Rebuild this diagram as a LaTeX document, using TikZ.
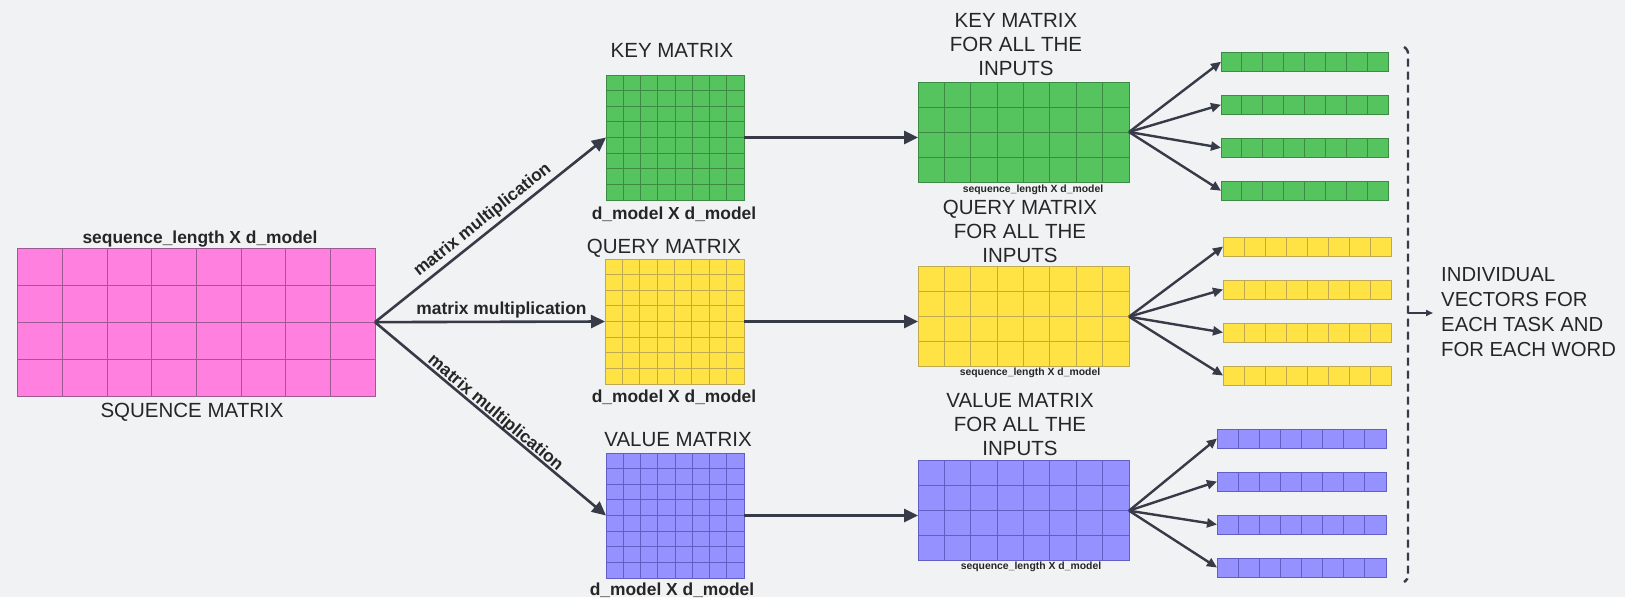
\documentclass[tikz,border=0pt]{standalone}
\usepackage{fontspec}
\setmainfont{Liberation Sans}
\usetikzlibrary{calc,arrows.meta}
\definecolor{bgc}{HTML}{F1F2F4}
\definecolor{pinkf}{HTML}{FF80DF}
\definecolor{pinkl}{HTML}{9E5A92}
\definecolor{greenf}{HTML}{55C35E}
\definecolor{greenl}{HTML}{3D8A45}
\definecolor{yellowf}{HTML}{FFE244}
\definecolor{yellowl}{HTML}{BFAA52}
\definecolor{bluef}{HTML}{9591FF}
\definecolor{bluel}{HTML}{625FC4}
\definecolor{arrowc}{HTML}{363B47}
\definecolor{txtc}{HTML}{262626}
\tikzset{
  matbox/.style={inner sep=0pt,outer sep=0pt,line width=1pt},
  pinkm/.style={fill=pinkf,draw=pinkl,line width=0.9pt},
  greenm/.style={fill=greenf,draw=greenl,line width=0.9pt},
  yellowm/.style={fill=yellowf,draw=yellowl,line width=0.9pt},
  bluem/.style={fill=bluef,draw=bluel,line width=0.9pt},
  arr/.style={draw=arrowc,line width=2.6pt,-{Triangle[length=14pt,width=13pt]}},
  farr/.style={draw=arrowc,line width=2.4pt,-{Triangle[length=10pt,width=9pt]}},
  title/.style={text=txtc,font=\fontsize{20.5}{24}\selectfont,align=center,inner sep=0pt},
  blabel/.style={text=txtc,font=\bfseries\fontsize{17.4}{20}\selectfont,inner sep=0pt},
  slabel/.style={text=txtc,font=\bfseries\fontsize{10.4}{12}\selectfont,inner sep=0pt},
  mlabel/.style={text=txtc,font=\bfseries\fontsize{17.4}{20}\selectfont,inner sep=2pt},
}
\newcommand\mymat[8]{%
  \node[matbox,#8,minimum width=#4pt,minimum height=#5pt,anchor=north west] (#1) at (#2,#3) {};
  \pgfmathtruncatemacro\mcols{#6-1}%
  \pgfmathtruncatemacro\mrows{#7-1}%
  \foreach \i in {1,...,\mcols}{\draw[#8] ($(#1.north west)!\i/#6!(#1.north east)$) -- ($(#1.south west)!\i/#6!(#1.south east)$);}%
  \ifnum#7>1
  \foreach \j in {1,...,\mrows}{\draw[#8] ($(#1.north west)!\j/#7!(#1.south west)$) -- ($(#1.north east)!\j/#7!(#1.south east)$);}%
  \fi
}
\begin{document}
\begin{tikzpicture}[x=1pt,y=-1pt]
\useasboundingbox (0,0) rectangle (1625,597);
\fill[bgc] (0,0) rectangle (1625,597);

% sequence matrix
\mymat{seq}{17.7}{248.3}{357.3}{147.7}{8}{4}{pinkm}
\node[blabel,anchor=base] (seqdim) at (200,243) {sequence\_length X d\_model};
\node[title,anchor=base] (seqname) at (192,417) {SQUENCE MATRIX};

% weight matrices
\mymat{km}{606}{75}{138}{125}{8}{8}{greenm}
\mymat{qm}{605}{259}{139}{125}{8}{8}{yellowm}
\mymat{vm}{606}{453}{138}{125}{8}{8}{bluem}
\node[title,anchor=base] (kmname) at (672,57.5) {KEY MATRIX};
\node[title,anchor=base] (qmname) at (664,253) {QUERY MATRIX};
\node[title,anchor=base] (vmname) at (678,446.7) {VALUE MATRIX};
\node[blabel,anchor=base] (kmdim) at (674,219.5) {d\_model X d\_model};
\node[blabel,anchor=base] (qmdim) at (674,402) {d\_model X d\_model};
\node[blabel,anchor=base] (vmdim) at (672,595.5) {d\_model X d\_model};

% full matrices
\mymat{kall}{918}{82}{211}{100}{8}{4}{greenm}
\mymat{qall}{918}{266.7}{211}{100}{8}{4}{yellowm}
\mymat{vall}{918}{460.7}{211}{100}{8}{4}{bluem}
\node[title] (kallname) at (1016,44.5) {KEY MATRIX\\FOR ALL THE\\INPUTS};
\node[title] (qallname) at (1020,231) {QUERY MATRIX\\FOR ALL THE\\INPUTS};
\node[title] (vallname) at (1020,424.5) {VALUE MATRIX\\FOR ALL THE\\INPUTS};
\node[slabel,anchor=base] (kalldim) at (1033,192.7) {sequence\_length X d\_model};
\node[slabel,anchor=base] (qalldim) at (1030,375) {sequence\_length X d\_model};
\node[slabel,anchor=base] (valldim) at (1031,569) {sequence\_length X d\_model};

% vectors
\mymat{kv1}{1221}{52}{167}{19.5}{8}{1}{greenm}
\mymat{kv2}{1221}{95}{167}{19.5}{8}{1}{greenm}
\mymat{kv3}{1221}{138}{167}{19.5}{8}{1}{greenm}
\mymat{kv4}{1221}{181}{167}{19.5}{8}{1}{greenm}
\mymat{qv1}{1223}{237}{168}{19}{8}{1}{yellowm}
\mymat{qv2}{1223}{280}{168}{19}{8}{1}{yellowm}
\mymat{qv3}{1223}{323}{168}{19}{8}{1}{yellowm}
\mymat{qv4}{1223}{366}{168}{19}{8}{1}{yellowm}
\mymat{vv1}{1217}{429}{169}{19}{8}{1}{bluem}
\mymat{vv2}{1217}{472}{169}{19}{8}{1}{bluem}
\mymat{vv3}{1217}{515}{169}{19}{8}{1}{bluem}
\mymat{vv4}{1217}{558}{169}{19}{8}{1}{bluem}

% arrows from sequence matrix
\draw[arr] (seq.east) -- (km.west) node[mlabel,pos=0.5,sloped,above=1pt] (lab1) {matrix multiplication};
\draw[arr] (seq.east) -- (qm.west) node[mlabel,pos=0.55,above=0pt] (lab2) {matrix multiplication};
\draw[arr] (seq.east) -- (vm.west) node[mlabel,pos=0.5,sloped,above=-4pt] (lab3) {matrix multiplication};

% arrows to full matrices
\draw[arr] (km.east) -- (km.east -| kall.west);
\draw[arr] (qm.east) -- (qm.east -| qall.west);
\draw[arr] (vm.east) -- (vm.east -| vall.west);

% fan arrows
\foreach \v in {kv1,kv2,kv3,kv4} \draw[farr] (kall.east) -- (\v.west);
\foreach \v in {qv1,qv2,qv3,qv4} \draw[farr] (qall.east) -- (\v.west);
\foreach \v in {vv1,vv2,vv3,vv4} \draw[farr] (vall.east) -- (\v.west);

% bracket
\draw[arrowc,line width=2.4pt,dash pattern=on 8pt off 5pt,rounded corners=3pt]
  (1404,47) -- (1408,50) -- (1408,579) -- (1404,582);
\coordinate (brk) at (1408,313);
\node[title,align=left,anchor=west,inner xsep=8pt,font=\fontsize{20.3}{25}\selectfont] (indiv) at (1433,312)
  {INDIVIDUAL\\VECTORS FOR\\EACH TASK AND\\FOR EACH WORD};
\draw[draw=arrowc,line width=2pt,-{Triangle[length=7pt,width=6pt]}] (brk) -- (brk -| indiv.west);
\end{tikzpicture}
\end{document}
